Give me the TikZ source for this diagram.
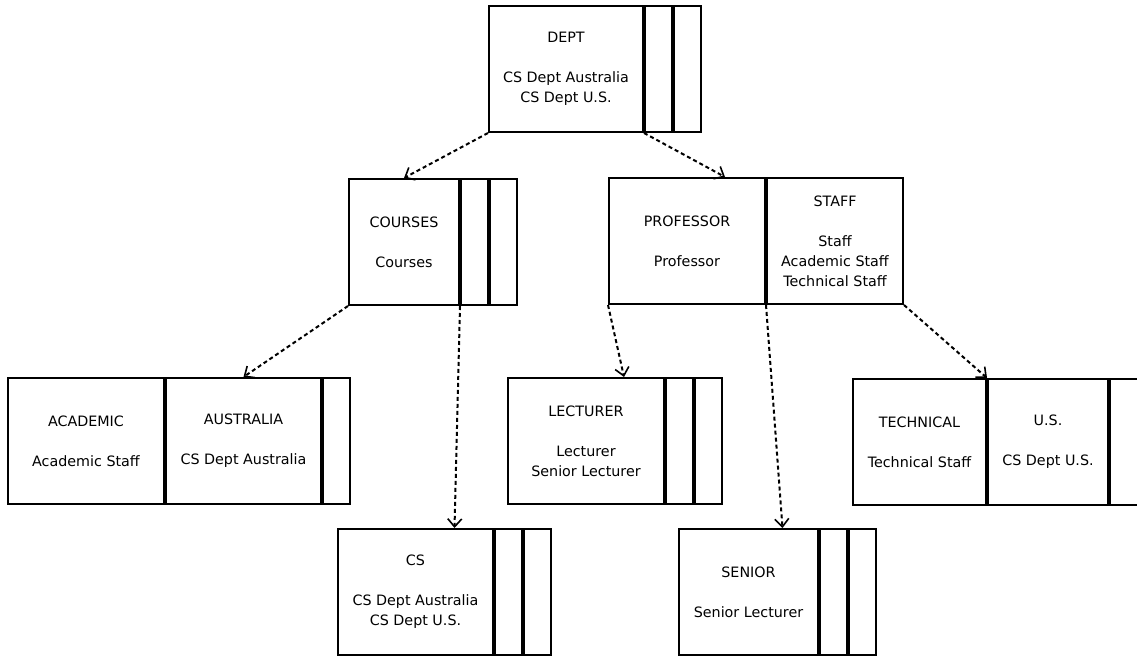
\documentclass[tikz,border=0pt]{standalone}
\usepackage{fontspec}
\setmainfont{DejaVu Sans}
\usetikzlibrary{positioning,arrows.meta}

\begin{document}
\begin{tikzpicture}[
    x=1pt, y=-1pt,
    node distance=0pt,
    concept/.style={rectangle, draw, line width=2pt, anchor=north west,
                    minimum height=126pt, inner sep=0pt, align=center,
                    font=\fontsize{14.3}{20}\selectfont},
    side/.style={concept, anchor=west, minimum width=27pt},
    link/.style={-{Straight Barb[length=8pt,width=14pt,line width=1.6pt]},
                 line width=2pt, dash pattern=on 4pt off 3pt}
  ]
  \useasboundingbox (0,0) rectangle (1137,658);

  % Top: the department concept.
  \node[concept, minimum width=154pt] (dept) at (488,5)
    {DEPT\\[20pt]CS Dept Australia\\CS Dept U.S.};
  \node[side, right=of dept]  (dept1) {};
  \node[side, right=of dept1] (dept2) {};

  % Second row.
  \node[concept, minimum width=110pt] (courses) at (348,178)
    {COURSES\\[20pt]Courses};
  \node[side, right=of courses]  (courses1) {};
  \node[side, right=of courses1] (courses2) {};

  \node[concept, minimum width=156pt] (professor) at (608,177)
    {PROFESSOR\\[20pt]Professor};
  \node[concept, anchor=west, minimum width=136pt, right=of professor] (staff)
    {STAFF\\[20pt]Staff\\Academic Staff\\Technical Staff};

  % Third row.
  \node[concept, minimum width=156pt] (academic) at (7,377)
    {ACADEMIC\\[20pt]Academic Staff};
  \node[concept, anchor=west, minimum width=155pt, right=of academic] (australia)
    {AUSTRALIA\\[20pt]CS Dept Australia};
  \node[side, right=of australia] (australia1) {};

  \node[concept, minimum width=156pt] (lecturer) at (507,377)
    {LECTURER\\[20pt]Lecturer\\Senior Lecturer};
  \node[side, right=of lecturer]  (lecturer1) {};
  \node[side, right=of lecturer1] (lecturer2) {};

  \node[concept, minimum width=133pt] (technical) at (852,378)
    {TECHNICAL\\[20pt]Technical Staff};
  \node[concept, anchor=west, minimum width=120pt, right=of technical] (us)
    {U.S.\\[20pt]CS Dept U.S.};
  \node[side, minimum width=32pt, right=of us] (us1) {};

  % Bottom row.
  \node[concept, minimum width=155pt] (cs) at (337,528)
    {CS\\[20pt]CS Dept Australia\\CS Dept U.S.};
  \node[side, right=of cs]  (cs1) {};
  \node[side, right=of cs1] (cs2) {};

  \node[concept, minimum width=139pt] (senior) at (678,528)
    {SENIOR\\[20pt]Senior Lecturer};
  \node[side, right=of senior]  (senior1) {};
  \node[side, right=of senior1] (senior2) {};

  % Order edges.
  \draw[link] (dept.south west)      -- (courses.north);
  \draw[link] (dept.south east)      -- ([xshift=38pt]professor.north);
  \draw[link] (courses.south west)   -- (australia.north);
  \draw[link] (courses.south east)   -- ([xshift=39pt]cs.north);
  \draw[link] (professor.south west) -- ([xshift=38pt]lecturer.north);
  \draw[link] (professor.south east) -- ([xshift=34pt]senior.north);
  \draw[link] (staff.south east)     -- (us.north west);

\end{tikzpicture}
\end{document}
